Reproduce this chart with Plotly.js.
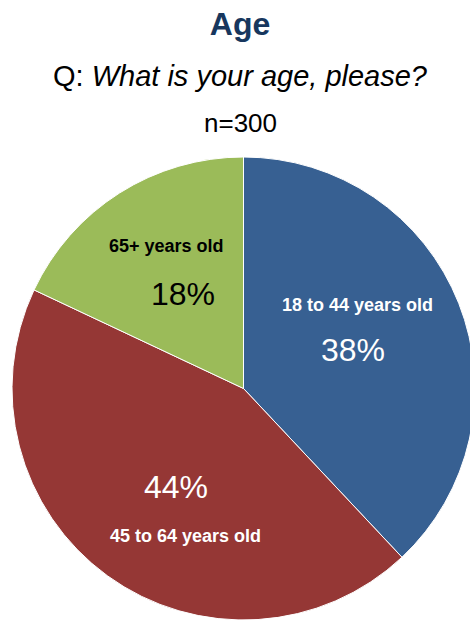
<!DOCTYPE html>
<html>
<head>
<meta charset="utf-8">
<script src="https://cdn.plot.ly/plotly-3.0.1.min.js"></script>
<style>
html,body{margin:0;padding:0;overflow:hidden;background:#fff;width:470px;height:620px;}
#chart{width:490px;height:640px;}
</style>
</head>
<body>
<div id="chart"></div>
<script>
// Data
var categories = ["18 to 44 years old", "45 to 64 years old", "65+ years old"];
var values = [38, 44, 18];
var colors = ["#376092", "#953735", "#9BBB59"];
var titleText = "Age";
var questionPrefix = "Q: ";
var questionText = "What is your age, please?";
var sampleText = "n=300";

var W = 490, H = 640;
function px(x){ return x / W; }
function py(y){ return 1 - y / H; }

// label placement (pixel coords in page) per slice
var labelPos = [
  {lx: 357, ly: 305, prx: 353, pry: 350, color: "#FFFFFF"},
  {lx: 185, ly: 536, prx: 176, pry: 487, color: "#FFFFFF"},
  {lx: 166, ly: 246, prx: 183, pry: 294, color: "#000000"}
];

var base = "'Liberation Sans', Arial, sans-serif";

var annotations = [];
categories.forEach(function(c, i){
  var p = labelPos[i];
  annotations.push({
    text: "<b>" + c + "</b>", x: px(p.lx), y: py(p.ly), xref: "paper", yref: "paper",
    xanchor: "center", yanchor: "middle", showarrow: false,
    font: {family: base, size: 18, color: p.color}
  });
  annotations.push({
    text: values[i] + "%", x: px(p.prx), y: py(p.pry), xref: "paper", yref: "paper",
    xanchor: "center", yanchor: "middle", showarrow: false,
    font: {family: base, size: 32, color: p.color}
  });
});
annotations.push({
  text: questionPrefix + "<i>" + questionText + "</i>", x: px(240), y: py(76), xref: "paper", yref: "paper",
  xanchor: "center", yanchor: "middle", showarrow: false,
  font: {family: base, size: 29, color: "#000000"}
});
annotations.push({
  text: sampleText, x: px(240), y: py(123), xref: "paper", yref: "paper",
  xanchor: "center", yanchor: "middle", showarrow: false,
  font: {family: base, size: 26, color: "#000000"}
});

var trace = {
  type: "pie",
  labels: categories,
  values: values,
  sort: false,
  direction: "clockwise",
  rotation: 0,
  textinfo: "none",
  marker: {colors: colors, line: {color: "#FFFFFF", width: 1}},
  domain: {x: [12 / W, 475 / W], y: [py(620), py(157)]},
  showlegend: false
};

var layout = {
  width: W, height: H,
  margin: {l: 0, r: 0, t: 0, b: 0},
  paper_bgcolor: "#FFFFFF",
  title: {
    text: "<b>" + titleText + "</b>",
    x: px(240), xanchor: "center", xref: "paper",
    y: 1 - 24 / H, yanchor: "middle", yref: "container",
    font: {family: base, size: 32, color: "#17375E"}
  },
  annotations: annotations,
  showlegend: false
};

Plotly.newPlot("chart", [trace], layout, {staticPlot: true, displayModeBar: false});
</script>
</body>
</html>
